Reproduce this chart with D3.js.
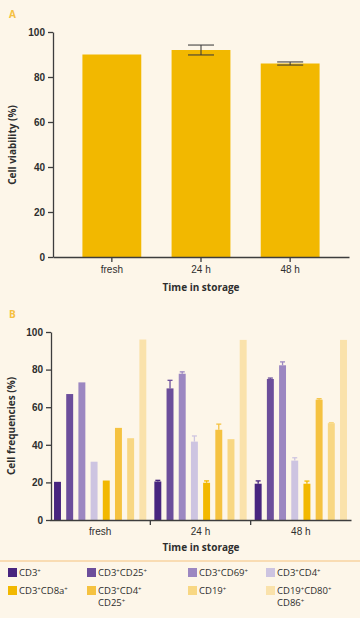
<!DOCTYPE html>
<html>
<head>
<meta charset="UTF-8" />
<title>cell viability and frequencies</title>
<script src="https://d3js.org/d3.v7.min.js"></script>
<style>
  body { margin:0; background:#fdf6e9; }
  svg { display:block; font-family:"Open Sans", "Noto Sans", sans-serif; }
</style>
</head>
<body>
<svg id="chart" width="360" height="618"></svg>
<script>
// panel A data
var timepoints = ["fresh", "24 h", "48 h"]
var viability = [90, 92, 86]
var viabilityErr = [0, 2.2, 0.7]
var yTicks = [0, 20, 40, 60, 80, 100]

// panel B data
var cellTypes = ["CD3+", "CD3+CD25+", "CD3+CD69+", "CD3+CD4+", "CD3+CD8a+", "CD3+CD4+CD25+", "CD19+", "CD19+CD80+CD86+"]
var legendLines = [["CD3+"], ["CD3+CD25+"], ["CD3+CD69+"], ["CD3+CD4+"], ["CD3+CD8a+"], ["CD3+CD4+", "CD25+"], ["CD19+"], ["CD19+CD80+", "CD86+"]]
var freshVals = [20.3, 67, 73.2, 31, 21, 49, 43.5, 96]
var h24Vals = [20.5, 70, 77.8, 41.7, 19.8, 48, 43, 95.8]
var h48Vals = [19.3, 75, 82.3, 31.6, 19.3, 64, 51.5, 95.8]
var freshErr = [0, 0, 0, 0, 0, 0, 0, 0]
var h24Err = [0.6, 4.3, 1, 3, 1, 3, 0, 0]
var h48Err = [1.5, 0.5, 1.8, 1.5, 1.4, 0.5, 0.3, 0]
var colors = ["#48257f", "#6c4e9b", "#9c87c1", "#cdc4e1", "#f2b800", "#f5c240", "#f8d783", "#fae2ab"]

var svg = d3.select("#chart")
var axisColor = "#3d3d3d"
var textColor = "#2e2e2e"

function styleAxis(g) {
	g.selectAll("path, line").attr("stroke", axisColor).attr("stroke-width", 1.3)
	g.selectAll("text").attr("fill", textColor).style("font-size", "10px").style("font-weight", 600)
}

// ---------- panel A ----------
var xA = d3.scaleBand().domain(timepoints).range([53, 349]).paddingInner(0.34).paddingOuter(0.33)
var yA = d3.scaleLinear().domain([0, 100]).range([257, 32])

svg.append("text").attr("x", 9).attr("y", 18).text("A")
	.attr("fill", "#f5c040").style("font-size", "10px").style("font-weight", 700)

svg.selectAll("rect.barA").data(timepoints).join("rect")
	.attr("class", "barA")
	.attr("x", d => xA(d)).attr("width", xA.bandwidth())
	.attr("y", (d, i) => yA(viability[i]))
	.attr("height", (d, i) => yA(0) - yA(viability[i]))
	.attr("fill", "#f2b800")

var errA = svg.append("g").attr("stroke", "#3a3a3a").attr("stroke-opacity", 0.8).attr("stroke-width", 1.3)
timepoints.forEach((d, i) => {
	if (!viabilityErr[i]) return
	var cx = xA(d) + xA.bandwidth() / 2
	var top = yA(viability[i] + viabilityErr[i]), bot = yA(viability[i] - viabilityErr[i])
	errA.append("line").attr("x1", cx).attr("x2", cx).attr("y1", top).attr("y2", bot)
	errA.append("line").attr("x1", cx - 13).attr("x2", cx + 13).attr("y1", top).attr("y2", top)
	errA.append("line").attr("x1", cx - 13).attr("x2", cx + 13).attr("y1", bot).attr("y2", bot)
})

svg.append("g").attr("transform", "translate(53,0)")
	.call(d3.axisLeft(yA).tickValues(yTicks).tickSize(5).tickSizeOuter(0))
	.call(styleAxis)
svg.append("g").attr("transform", "translate(0,257)")
	.call(d3.axisBottom(xA).tickSize(5).tickSizeOuter(0).tickPadding(4))
	.call(styleAxis)
	.selectAll("text").style("font-weight", 400)

svg.append("text").attr("x", 201).attr("y", 291).attr("text-anchor", "middle")
	.text("Time in storage").attr("fill", textColor).style("font-size", "10px").style("font-weight", 700)
svg.append("text").attr("transform", "translate(16,145) rotate(-90)").attr("text-anchor", "middle")
	.text("Cell viability (%)").attr("fill", textColor).style("font-size", "10px").style("font-weight", 700)

// ---------- panel B ----------
var valsB = [freshVals, h24Vals, h48Vals]
var errB = [freshErr, h24Err, h48Err]
var x0 = d3.scaleBand().domain(timepoints).range([50, 351]).padding(0)
var x1 = d3.scaleBand().domain(cellTypes).range([0, x0.bandwidth()]).paddingInner(0.43).paddingOuter(0.33)
var yB = d3.scaleLinear().domain([0, 100]).range([520, 332])

svg.append("text").attr("x", 9).attr("y", 318).text("B")
	.attr("fill", "#f5c040").style("font-size", "10px").style("font-weight", 700)

var groups = svg.selectAll("g.grp").data(timepoints).join("g")
	.attr("class", "grp")
	.attr("transform", d => `translate(${x0(d)},0)`)

groups.each(function(t, gi) {
	var g = d3.select(this)
	g.selectAll("rect").data(cellTypes).join("rect")
		.attr("x", d => x1(d)).attr("width", x1.bandwidth())
		.attr("y", (d, i) => yB(valsB[gi][i]))
		.attr("height", (d, i) => yB(0) - yB(valsB[gi][i]))
		.attr("fill", (d, i) => colors[i])
	cellTypes.forEach((d, i) => {
		var e = errB[gi][i]
		if (!e) return
		var cx = x1(d) + x1.bandwidth() / 2
		var top = yB(valsB[gi][i] + e)
		g.append("line").attr("x1", cx).attr("x2", cx).attr("y1", top).attr("y2", yB(valsB[gi][i]))
			.attr("stroke", colors[i]).attr("stroke-width", 1.3)
		g.append("line").attr("x1", cx - 2.5).attr("x2", cx + 2.5).attr("y1", top).attr("y2", top)
			.attr("stroke", colors[i]).attr("stroke-width", 1.3)
	})
})

svg.append("g").attr("transform", "translate(51,0)")
	.call(d3.axisLeft(yB).tickValues(yTicks).tickSize(5).tickSizeOuter(0))
	.call(styleAxis)
var xAxisB = svg.append("g").attr("transform", "translate(0,520)")
	.call(d3.axisBottom(x0).tickSize(0).tickSizeOuter(0).tickPadding(8))
	.call(styleAxis)
xAxisB.selectAll("text").style("font-weight", 400)
xAxisB.selectAll("line.sep").data(timepoints.slice(1)).join("line")
	.attr("class", "sep")
	.attr("x1", d => x0(d)).attr("x2", d => x0(d)).attr("y1", 0).attr("y2", 5)
	.attr("stroke", axisColor).attr("stroke-width", 1.3)

svg.append("text").attr("x", 201).attr("y", 551).attr("text-anchor", "middle")
	.text("Time in storage").attr("fill", textColor).style("font-size", "10px").style("font-weight", 700)
svg.append("text").attr("transform", "translate(15,426) rotate(-90)").attr("text-anchor", "middle")
	.text("Cell frequencies (%)").attr("fill", textColor).style("font-size", "10px").style("font-weight", 700)

// ---------- legend ----------
svg.append("line").attr("x1", 0).attr("x2", 360).attr("y1", 561).attr("y2", 561)
	.attr("stroke", "#f6c27e").attr("stroke-width", 1.2)

var legX = [8, 87, 188, 266]
var legY = [576, 594]
var leg = svg.selectAll("g.leg").data(cellTypes).join("g")
	.attr("class", "leg")
	.attr("transform", (d, i) => `translate(${legX[i % 4]},${legY[Math.floor(i / 4)]})`)
leg.append("rect").attr("x", 0).attr("y", -8).attr("width", 9).attr("height", 9)
	.attr("fill", (d, i) => colors[i])
leg.each(function(d, i) {
	var g = d3.select(this)
	legendLines[i].forEach((line, li) => {
		var txt = g.append("text").attr("x", 11).attr("y", li * 12)
			.attr("fill", textColor).style("font-size", "9.5px")
		var raised = false
		line.split(/(\+)/).filter(s => s.length).forEach(part => {
			if (part == "+") {
				txt.append("tspan").text("+").attr("dy", -3).style("font-size", "6px")
				raised = true
			} else {
				txt.append("tspan").text(part).attr("dy", raised ? 3 : 0)
				raised = false
			}
		})
	})
})
</script>
</body>
</html>
